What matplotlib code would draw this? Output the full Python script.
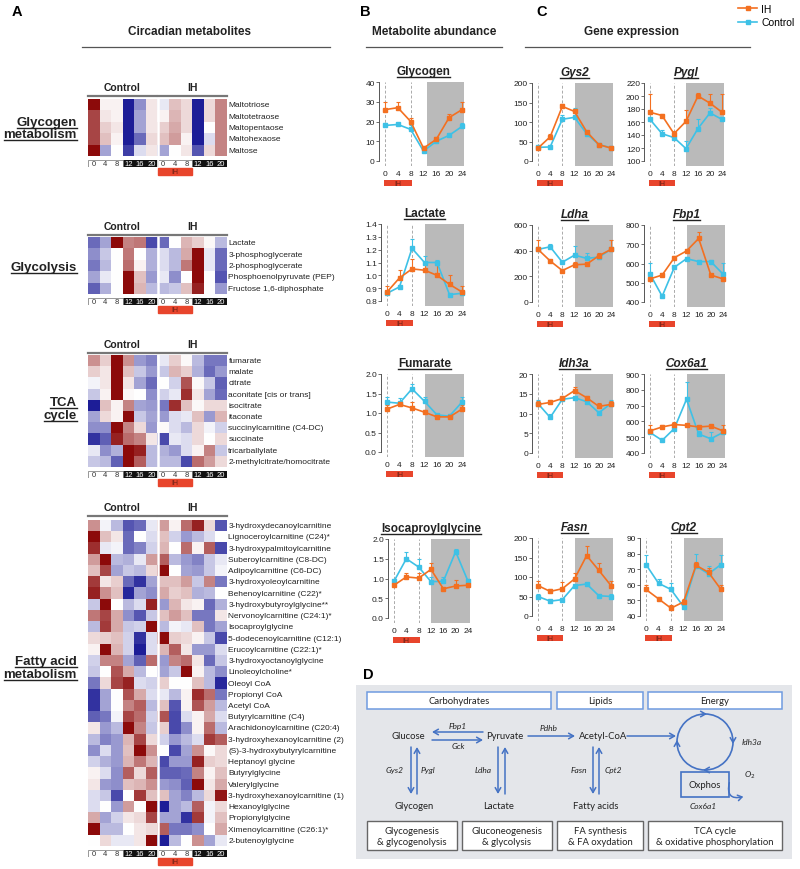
import numpy as np
import matplotlib
matplotlib.use("Agg")
import matplotlib.pyplot as plt
from matplotlib.colors import LinearSegmentedColormap
from matplotlib.patches import Rectangle, Circle, FancyArrowPatch
from matplotlib.lines import Line2D
from matplotlib.ticker import FormatStrFormatter

plt.rcParams['font.family'] = ['Liberation Sans', 'DejaVu Sans']

# ---------------- data: heatmaps (z-scores, Control 0..20 | IH 0..20) ----------------
heat_times = ['0', '4', '8', '12', '16', '20']

glyc_names = ['Maltotriose', 'Maltotetraose', 'Maltopentaose', 'Maltohexaose', 'Maltose']
glyc_vals = [
    [2.0, 0.1, 0.1, -2.0, -1.0, 0.2, -0.2, 0.5, 0.3, -2.0, 0.3, 1.0],
    [1.5, 0.2, 0.1, -2.0, -0.8, 0.2, 0.1, 0.6, 0.3, -2.0, 0.3, 1.0],
    [1.5, 0.4, 0.2, -2.0, -0.8, 0.2, 0.4, 0.7, 0.3, -2.0, 0.0, 1.0],
    [1.5, 0.5, 0.1, -2.0, -1.3, 0.3, 0.5, 0.8, 0.1, -2.0, -0.3, 1.0],
    [2.0, -0.8, 0.0, -1.7, -0.3, 0.2, -0.8, 0.0, 0.2, -1.5, 0.3, 1.0],
]

glycol_names = ['Lactate', '3-phosphoglycerate', '2-phosphoglycerate',
                'Phosphoenolpyruvate (PEP)', 'Fructose 1,6-diphosphate']
glycol_vals = [
    [-1.3, -0.8, 2.0, 1.0, 1.1, -1.6, -1.3, 0.0, 0.6, 0.4, 0.05, -0.6],
    [-1.0, -0.5, 0.0, 1.1, 0.0, -0.7, -0.3, -0.6, 0.7, 2.0, -0.2, -1.3],
    [-1.2, -0.6, 0.0, 1.2, 0.1, -0.7, -0.3, -0.6, 1.1, 2.0, -0.2, -1.3],
    [-0.8, -0.2, 0.0, 2.0, 0.5, -0.9, -0.2, -1.0, 0.0, 2.0, 0.0, -1.5],
    [-1.4, -0.7, 0.0, 2.0, 0.6, -0.6, -0.6, -0.5, 0.5, 1.8, 0.0, -0.9],
]

tca_names = ['fumarate', 'malate', 'citrate', 'aconitate [cis or trans]', 'isocitrate',
             'itaconate', 'succinylcarnitine (C4-DC)', 'succinate', 'tricarballylate',
             '2-methylcitrate/homocitrate']
tca_vals = [
    [0.9, 0.4, 2.0, 0.9, -0.9, -1.1, -0.2, 0.4, 0.05, -0.6, -1.2, -1.2],
    [0.4, 0.2, 2.0, 0.5, -0.5, -0.9, -0.5, 0.6, 0.4, -0.7, -1.3, -0.9],
    [-0.1, 0.2, 2.0, 0.2, -0.8, -1.3, 0.0, -0.4, 1.4, 0.05, -0.5, -1.4],
    [-0.5, 0.1, 2.0, 0.05, 0.0, -1.0, -0.4, -0.2, 1.7, 0.2, -0.8, -1.3],
    [-2.0, 0.5, 0.1, 1.0, -0.8, -0.9, -1.2, 1.7, 0.5, 0.05, 0.3, 0.3],
    [-0.8, 0.3, 0.1, 2.0, -0.5, -0.8, -0.9, -0.3, -0.2, 0.5, -0.9, 0.6],
    [-1.0, -1.0, 2.0, 1.0, 0.3, -0.9, 0.05, -0.3, -0.6, 0.3, -0.1, -0.4],
    [-1.8, -1.4, 1.8, 1.2, 1.0, 0.2, -1.6, -0.2, -0.3, 0.3, 0.0, 0.3],
    [-0.2, -1.0, -0.7, 2.0, 1.8, -0.6, -0.7, -0.9, -0.3, 0.1, 1.0, -0.5],
    [-0.5, -0.6, -1.4, 2.0, 1.3, -0.6, -0.6, -0.6, -1.6, 1.2, 0.8, 0.3],
]

fa_names = ['3-hydroxydecanoylcarnitine', 'Lignoceroylcarnitine (C24)*',
            '3-hydroxypalmitoylcarnitine', 'Suberoylcarnitine (C8-DC)',
            'Adipoylcarnitine (C6-DC)', '3-hydroxyoleoylcarnitine',
            'Behenoylcarnitine (C22)*', '3-hydroxybutyroylglycine**',
            'Nervonoylcarnitine (C24:1)*', 'Isocaproylglycine',
            '5-dodecenoylcarnitine (C12:1)', 'Erucoylcarnitine (C22:1)*',
            '3-hydroxyoctanoylglycine', 'Linoleoylcholine*', 'Oleoyl CoA',
            'Propionyl CoA', 'Acetyl CoA', 'Butyrylcarnitine (C4)',
            'Arachidonoylcarnitine (C20:4)', '3-hydroxyhexanoylcarnitine (2)',
            '(S)-3-hydroxybutyrylcarnitine', 'Heptanoyl glycine', 'Butyrylglycine',
            'Valerylglycine', '3-hydroxyhexanoylcarnitine (1)', 'Hexanoylglycine',
            'Propionylglycine', 'Ximenoylcarnitine (C26:1)*', '2-butenoylglycine']
fa_vals = [
    [0.9, -0.1, -0.6, -1.5, -1.3, -0.2, 0.8, 0.1, 1.2, 1.8, 0.3, -1.5],
    [2.0, 0.5, 0.2, -1.3, 0.0, -0.3, 0.5, -0.4, -0.9, -0.6, -0.3, 0.0],
    [1.7, -0.2, -0.1, -1.3, -1.1, -0.4, 0.6, 0.0, 1.2, 0.1, 1.3, -1.6],
    [0.8, 2.0, -0.6, -0.7, -0.2, 0.8, 1.3, -0.6, -0.9, -1.1, -0.5, -0.2],
    [0.5, 1.5, -0.8, -0.5, -0.6, 0.3, 2.0, 0.0, -0.8, -0.9, -0.5, -0.1],
    [1.6, 0.2, 0.4, -1.3, -1.8, -0.8, 0.5, 0.5, 0.8, -0.5, 1.0, -1.2],
    [1.8, 0.9, 0.5, -1.9, -0.8, -1.0, 0.7, 0.4, 0.5, -0.7, -0.6, 0.0],
    [-0.5, 2.0, 0.0, -0.6, -0.3, 1.8, -0.9, 0.6, 0.2, 0.1, -1.3, -0.7],
    [1.1, 1.5, 0.7, -1.0, -1.5, -0.5, 0.5, 0.8, 0.5, -1.2, -1.2, 0.2],
    [-0.6, 1.6, 0.7, -0.5, -0.4, 2.0, -0.6, -0.1, -0.2, 0.5, -1.2, -0.8],
    [0.3, 0.4, 0.5, -0.4, -1.8, -0.3, 2.0, 0.4, 0.3, 0.1, -0.5, -1.6],
    [0.1, 2.0, 0.6, -0.4, -2.0, -0.3, 0.6, 1.3, 0.2, -0.9, -0.9, -0.3],
    [-0.4, 1.0, 1.0, -0.8, -1.4, 1.2, -0.9, 1.0, 1.2, 0.2, -1.3, -0.5],
    [-0.5, 0.0, 1.4, 0.7, -0.6, 0.0, -0.8, -0.5, 2.0, 0.1, -0.6, -1.0],
    [-1.2, 0.3, 1.5, 1.8, -0.3, -0.4, 0.4, 0.0, 0.0, 0.5, -0.6, -1.9],
    [-1.8, -0.8, 0.0, 1.4, 0.7, -0.3, -0.2, -0.6, 0.1, 1.7, 1.2, -1.2],
    [-1.8, -0.8, 0.0, 1.0, 1.3, -0.6, 0.5, -1.5, 0.1, 1.4, 0.8, -0.6],
    [-1.4, -1.2, -0.1, 1.5, 1.2, -0.4, 1.4, -1.6, -0.3, 0.1, 0.7, -0.3],
    [0.2, -0.9, -0.6, 2.0, 1.0, -0.5, 0.4, -1.6, -1.0, 0.1, 1.2, -0.6],
    [-0.6, -1.1, -0.9, 0.6, 1.5, 0.3, -0.4, -0.9, -0.6, -0.3, 1.6, 1.3],
    [-1.0, -0.3, -0.9, 0.5, 2.0, 0.9, 0.0, -1.6, -0.8, 0.9, 0.05, 0.3],
    [-0.4, -0.7, -0.9, 0.6, 1.1, 0.6, -1.6, -0.9, -0.9, 1.8, 0.4, 0.3],
    [0.1, -0.3, -1.0, 1.3, 0.3, 1.3, -1.4, -1.4, -1.3, 1.0, 0.1, 0.5],
    [0.2, -0.9, -1.0, 0.5, 0.6, 0.9, -0.9, -1.0, -1.4, 2.0, 0.2, 0.7],
    [-0.3, -0.5, -1.6, 0.0, 1.6, 0.5, 0.5, -0.8, -1.1, -0.6, 0.3, 1.9],
    [-0.3, 0.0, -0.9, 0.8, 0.0, 2.0, -2.0, -0.8, -0.6, 1.3, -0.1, 0.3],
    [0.7, -0.8, -0.4, 0.2, 0.3, 1.5, -0.8, -0.8, -1.8, 1.6, -0.1, 0.5],
    [2.0, -0.6, -0.6, 0.0, 0.2, 0.3, 1.3, -1.2, -1.2, -1.0, 0.0, 0.7],
    [0.0, 0.3, -0.2, -0.2, 0.2, 2.0, -2.0, -0.6, 0.0, 0.9, -0.8, -0.2],
]

# ---------------- data: time courses (ZT hours) ----------------
hours = [0, 4, 8, 12, 16, 20, 24]

glycogen_ih = [26, 27, 20, 6.5, 11, 22, 26]
glycogen_ih_err = [4, 3, 2, 1, 1, 2, 4]
glycogen_ct = [18, 18.5, 16, 5, 10, 13, 17.5]
glycogen_ct_err = [1, 0.5, 2, 1, 0.5, 0.5, 1.5]

gys2_ih = [33, 62, 140, 127, 75, 42, 33]
gys2_ih_err = [3, 8, 7, 5, 3, 2, 3]
gys2_ct = [35, 36, 107, 112, 70, 42, 34]
gys2_ct_err = [3, 3, 12, 25, 3, 2, 3]

pygl_ih = [175, 170, 142, 161, 200, 189, 175]
pygl_ih_err = [28, 2, 4, 18, 5, 14, 28]
pygl_ct = [164, 142, 136, 119, 150, 174, 164]
pygl_ct_err = [0, 6, 2, 12, 14, 8, 0]

lactate_ih = [0.87, 0.98, 1.05, 1.04, 1.00, 0.93, 0.87]
lactate_ih_err = [0.05, 0.06, 0.08, 0.06, 0.08, 0.07, 0.05]
lactate_ct = [0.86, 0.91, 1.21, 1.10, 1.10, 0.85, 0.86]
lactate_ct_err = [0.0, 0.01, 0.07, 0.05, 0.02, 0.0, 0.0]

ldha_ih = [410, 320, 245, 290, 295, 360, 410]
ldha_ih_err = [70, 10, 10, 20, 5, 20, 70]
ldha_ct = [410, 430, 310, 365, 340, 350, 410]
ldha_ct_err = [0, 25, 10, 70, 40, 10, 0]

fbp1_ih = [520, 540, 630, 665, 730, 540, 520]
fbp1_ih_err = [10, 10, 10, 10, 35, 5, 10]
fbp1_ct = [545, 430, 580, 625, 610, 610, 545]
fbp1_ct_err = [60, 5, 10, 10, 10, 10, 60]

fumarate_ih = [1.10, 1.22, 1.13, 1.02, 0.90, 0.90, 1.10]
fumarate_ih_err = [0.1, 0.05, 0.15, 0.05, 0.02, 0.03, 0.1]
fumarate_ct = [1.28, 1.25, 1.62, 1.30, 0.95, 0.92, 1.28]
fumarate_ct_err = [0.13, 0.13, 0.12, 0.1, 0.02, 0.02, 0.13]

idh3a_ih = [12.3, 12.8, 13.8, 15.8, 14.0, 11.8, 12.3]
idh3a_ih_err = [0.8, 0.5, 0.3, 0.8, 0.4, 0.8, 0.8]
idh3a_ct = [12.5, 9.0, 13.6, 14.0, 13.0, 10.2, 12.5]
idh3a_ct_err = [0.8, 1.0, 0.3, 0.5, 0.5, 0.5, 0.8]

cox6a1_ih = [540, 565, 580, 575, 565, 570, 540]
cox6a1_ih_err = [35, 10, 15, 10, 5, 5, 35]
cox6a1_ct = [530, 480, 555, 740, 520, 490, 530]
cox6a1_ct_err = [20, 5, 15, 110, 20, 40, 20]

isocap_ih = [0.83, 1.04, 1.01, 1.23, 0.74, 0.81, 0.83]
isocap_ih_err = [0.05, 0.1, 0.12, 0.15, 0.03, 0.15, 0.03]
isocap_ct = [0.93, 1.50, 1.29, 0.92, 0.93, 1.68, 0.93]
isocap_ct_err = [0.05, 0.16, 0.2, 0.12, 0.1, 0.07, 0.05]

fasn_ih = [78, 63, 70, 95, 155, 117, 78]
fasn_ih_err = [12, 5, 16, 15, 25, 18, 12]
fasn_ct = [50, 38, 42, 78, 82, 52, 50]
fasn_ct_err = [6, 3, 3, 4, 3, 3, 6]

cpt2_ih = [57, 51, 45, 49, 72.5, 68, 57]
cpt2_ih_err = [3, 1.5, 2, 2, 2, 3, 3]
cpt2_ct = [73, 61, 57, 46, 72, 67, 73]
cpt2_ct_err = [6, 2.5, 4, 1.5, 8, 5, 6]

# ---------------- figure helpers (pixel coordinates, origin top-left) ----------------
W, H = 800, 870
fig = plt.figure(figsize=(W / 100, H / 100), dpi=100)

ORANGE = '#f37021'
CYAN = '#3ec1e6'
IHRED = '#e8452c'
TXT = '#222222'
to_underline = []


def px_ax(x0, y0, x1, y1):
    return fig.add_axes([x0 / W, 1 - y1 / H, (x1 - x0) / W, (y1 - y0) / H])


def ftext(x, y, s, **kw):
    return fig.text(x / W, 1 - y / H, s, **kw)


def fline(xs, ys, **kw):
    fig.add_artist(Line2D([x / W for x in xs], [1 - y / H for y in ys], **kw))


# ---------------- panel headers ----------------
ftext(12, 12, 'A', fontsize=10.5, fontweight='bold', va='center')
ftext(360, 12, 'B', fontsize=10.5, fontweight='bold', va='center')
ftext(536, 12, 'C', fontsize=10.5, fontweight='bold', va='center')
ftext(190, 32, 'Circadian metabolites', fontsize=8.5, fontweight='bold', ha='center', va='center', color=TXT)
ftext(434, 32, 'Metabolite abundance', fontsize=8.5, fontweight='bold', ha='center', va='center', color=TXT)
ftext(632, 32, 'Gene expression', fontsize=8.5, fontweight='bold', ha='center', va='center', color=TXT)
fline([82, 330], [48, 48], color='#555', lw=0.9)
fline([366, 502], [48, 48], color='#555', lw=0.9)
fline([525, 750], [48, 48], color='#555', lw=0.9)

fig.legend(handles=[Line2D([], [], color=ORANGE, marker='s', ms=2.5, lw=1.2),
                    Line2D([], [], color=CYAN, marker='s', ms=2.5, lw=1.2)],
           labels=['IH', 'Control'], loc='upper right', bbox_to_anchor=(1.005, 1.005),
           frameon=False, fontsize=7.5, handlelength=1.8, handletextpad=0.4, labelspacing=0.3)

# ---------------- A: heatmaps ----------------
cmap = LinearSegmentedColormap.from_list('bwr_dark', ['#1d1d97', '#ffffff', '#8c0a0a'])


def heat_block(names, vals, head_y, top, bottom):
    ftext(122, head_y, 'Control', ha='center', va='center', fontsize=7.5, fontweight='bold', color=TXT)
    ftext(192.5, head_y, 'IH', ha='center', va='center', fontsize=7.5, fontweight='bold', color=TXT)
    fline([88, 156], [head_y + 9] * 2, color='#777', lw=1.6)
    fline([158, 227], [head_y + 9] * 2, color='#777', lw=1.6)
    ax = px_ax(88, top, 227, bottom)
    ax.imshow(np.array(vals), cmap=cmap, vmin=-2, vmax=2, aspect='auto', interpolation='nearest')
    ax.axvline(5.5, color='white', lw=1.8)
    ax.set_axis_off()
    for i, n in enumerate(names):
        ax.text(1.01, i, n, transform=ax.get_yaxis_transform(), va='center', ha='left',
                fontsize=6, color=TXT)
    tax = px_ax(88, bottom + 4, 227, bottom + 11)
    tax.set_xlim(-0.5, 11.5)
    tax.set_ylim(0, 1)
    cols = (['white'] * 3 + ['#111111'] * 3) * 2
    tax.bar(range(12), 1, width=1, color=cols, lw=0)
    for g in (0, 6):
        tax.add_patch(Rectangle((g - 0.5, 0), 3, 1, fill=False, ec='#888', lw=0.6))
    for i, t in enumerate(heat_times * 2):
        tax.text(i, 0.48, t, ha='center', va='center', fontsize=5.5,
                 color='white' if i % 6 >= 3 else '#333')
    tax.axvline(5.5, color='white', lw=1.2)
    tax.add_patch(Rectangle((5.5, -1.15), 3, 0.95, color=IHRED, clip_on=False))
    tax.text(7, -0.68, 'IH', ha='center', va='center', fontsize=5, color='#6b2015')
    tax.set_axis_off()


heat_block(glyc_names, glyc_vals, 88, 100, 157)
heat_block(glycol_names, glycol_vals, 227, 238, 295)
heat_block(tca_names, tca_vals, 345, 356, 468)
heat_block(fa_names, fa_vals, 508, 521, 847)

for s, y in [('Glycogen', 123), ('metabolism', 135), ('Glycolysis', 268), ('TCA', 403),
             ('cycle', 416), ('Fatty acid', 662), ('metabolism', 675)]:
    to_underline.append(ftext(77, y, s, ha='right', va='center', fontsize=9.5,
                              fontweight='bold', color=TXT))


# ---------------- B & C: time courses ----------------
def line_panel(x0, x24, ytop, ybot, yticks, title, ih, ih_err, ct, ct_err,
               italic=False, fmt='%d', shade=12):
    ppu = (x24 - x0) / 24.0
    ymin, ymax = yticks[0], yticks[-1]
    ppy = (ybot - ytop) / (ymax - ymin)
    ax = px_ax(x0 - 1.9 * ppu, ytop, x24 + 0.7 * ppu, ybot + 5)
    ax.set_xlim(-1.9, 24.7)
    ax.set_ylim(ymin - 5 / ppy, ymax)
    ax.axvspan(shade, 24.7, color='#bababa', lw=0, zorder=0)
    for xv in (0, 8):
        ax.axvline(xv, color='#aaaaaa', lw=0.7, ls=(0, (3, 2)), zorder=1)
    for y, e, c in [(ct, ct_err, CYAN), (ih, ih_err, ORANGE)]:
        ax.errorbar(hours, y, yerr=[np.zeros(len(e)), e], color=c, lw=1.2, marker='s', ms=2.2,
                    capsize=1.5, elinewidth=0.8, capthick=0.8, zorder=3, clip_on=False)
    for s in ('top', 'right', 'bottom'):
        ax.spines[s].set_visible(False)
    ax.spines['left'].set_bounds(ymin, ymax)
    ax.spines['left'].set_color('#555')
    ax.spines['left'].set_linewidth(0.7)
    ax.set_xticks(hours)
    ax.set_yticks(yticks)
    ax.yaxis.set_major_formatter(FormatStrFormatter(fmt))
    ax.tick_params(axis='x', length=0, pad=3, labelsize=6, labelcolor=TXT)
    ax.tick_params(axis='y', length=2, pad=1, labelsize=6, width=0.6, color='#555', labelcolor=TXT)
    t = ftext((x0 + x24) / 2, ytop - 11, title, ha='center', va='center', fontsize=8.5,
              fontweight='bold', style='italic' if italic else 'normal', color=TXT)
    to_underline.append(t)
    bar = px_ax(x0 - 0.3 * ppu, ybot + 19, x0 + 8.3 * ppu, ybot + 25)
    bar.set_facecolor(IHRED)
    bar.set_xticks([])
    bar.set_yticks([])
    for s in bar.spines.values():
        s.set_visible(False)
    bar.text(0.5, 0.45, 'IH', ha='center', va='center', fontsize=5, color='#6b2015',
             transform=bar.transAxes)


line_panel(385, 462, 83, 162, [0, 10, 20, 30, 40], 'Glycogen',
           glycogen_ih, glycogen_ih_err, glycogen_ct, glycogen_ct_err, shade=13)
line_panel(538, 611, 84, 162, [0, 50, 100, 150, 200], 'Gys2',
           gys2_ih, gys2_ih_err, gys2_ct, gys2_ct_err, italic=True)
line_panel(650, 722, 84, 162, [100, 120, 140, 160, 180, 200, 220], 'Pygl',
           pygl_ih, pygl_ih_err, pygl_ct, pygl_ct_err, italic=True)

line_panel(387, 462, 225, 302, [0.8, 0.9, 1.0, 1.1, 1.2, 1.3, 1.4], 'Lactate',
           lactate_ih, lactate_ih_err, lactate_ct, lactate_ct_err, fmt='%.1f')
line_panel(538, 611, 226, 303, [0, 200, 400, 600], 'Ldha',
           ldha_ih, ldha_ih_err, ldha_ct, ldha_ct_err, italic=True)
line_panel(650, 723, 226, 303, [400, 500, 600, 700, 800], 'Fbp1',
           fbp1_ih, fbp1_ih_err, fbp1_ct, fbp1_ct_err, italic=True)

line_panel(387, 462, 375, 453, [0.0, 0.5, 1.0, 1.5, 2.0], 'Fumarate',
           fumarate_ih, fumarate_ih_err, fumarate_ct, fumarate_ct_err, fmt='%.1f')
line_panel(538, 611, 375, 454, [0, 5, 10, 15, 20], 'Idh3a',
           idh3a_ih, idh3a_ih_err, idh3a_ct, idh3a_ct_err, italic=True)
line_panel(650, 723, 375, 454, [400, 500, 600, 700, 800, 900], 'Cox6a1',
           cox6a1_ih, cox6a1_ih_err, cox6a1_ct, cox6a1_ct_err, italic=True)

line_panel(394, 468, 540, 619, [0.0, 0.5, 1.0, 1.5, 2.0], 'Isocaproylglycine',
           isocap_ih, isocap_ih_err, isocap_ct, isocap_ct_err, fmt='%.1f')
line_panel(538, 611, 539, 617, [0, 50, 100, 150, 200], 'Fasn',
           fasn_ih, fasn_ih_err, fasn_ct, fasn_ct_err, italic=True)
line_panel(646, 721, 539, 617, [40, 50, 60, 70, 80, 90], 'Cpt2',
           cpt2_ih, cpt2_ih_err, cpt2_ct, cpt2_ct_err, italic=True)

# ---------------- D: pathway diagram ----------------
ftext(363, 675, 'D', fontsize=10.5, fontweight='bold', va='center')
dax = px_ax(356, 686, 792, 860)
dax.set_xlim(356, 792)
dax.set_ylim(860, 686)
dax.set_facecolor('#e4e6ea')
dax.set_xticks([])
dax.set_yticks([])
for s in dax.spines.values():
    s.set_visible(False)

BLUE = '#4472c4'
DFONT = ['Lato', 'DejaVu Sans']
for x0, x1, lab in [(367, 551, 'Carbohydrates'), (557, 643, 'Lipids'), (648, 782, 'Energy')]:
    dax.add_patch(Rectangle((x0, 693), x1 - x0, 17, fc='white', ec='#6f9be0', lw=1.1))
    dax.text((x0 + x1) / 2, 702, lab, ha='center', va='center', fontsize=6.8, family=DFONT, color=TXT)
for x0, x1, lab in [(367, 457, 'Glycogenesis\n& glycogenolysis'),
                    (462, 552, 'Gluconeogenesis\n& glycolysis'),
                    (557, 643, 'FA synthesis\n& FA oxydation'),
                    (648, 782, 'TCA cycle\n& oxidative phosphorylation')]:
    dax.add_patch(Rectangle((x0, 822), x1 - x0, 29, fc='white', ec='#666', lw=1.0))
    dax.text((x0 + x1) / 2, 837, lab, ha='center', va='center', fontsize=6.8, family=DFONT,
             color=TXT, linespacing=1.3)

for x, y, lab in [(408, 737, 'Glucose'), (505, 737, 'Pyruvate'), (603, 737, 'Acetyl-CoA'),
                  (414, 807, 'Glycogen'), (499, 807, 'Lactate'), (596, 807, 'Fatty acids')]:
    dax.text(x, y, lab, ha='center', va='center', fontsize=6.8, family=DFONT, color=TXT)
for x, y, lab in [(458, 727, 'Fbp1'), (458, 747, 'Gck'), (549, 729, 'Pdhb'),
                  (395, 771, 'Gys2'), (428, 771, 'Pygl'), (483, 771, 'Ldha'),
                  (579, 771, 'Fasn'), (613, 771, 'Cpt2'), (752, 743, 'Idh3a'),
                  (703, 807, 'Cox6a1'), (750, 775, 'O$_2$')]:
    dax.text(x, y, lab, ha='center', va='center', fontsize=6, family=DFONT, style='italic',
             color=TXT)


def arrow(x1, y1, x2, y2):
    dax.annotate('', xy=(x2, y2), xytext=(x1, y1),
                 arrowprops=dict(arrowstyle='->,head_length=0.35,head_width=0.2', color=BLUE,
                                 lw=1.1, shrinkA=0, shrinkB=0))


arrow(483, 733, 432, 733)
arrow(432, 741, 483, 741)
arrow(528, 737, 575, 737)
arrow(627, 737, 676, 737)
arrow(411, 748, 411, 795)
arrow(417, 795, 417, 748)
arrow(498, 748, 498, 795)
arrow(505, 795, 505, 748)
arrow(593, 748, 593, 795)
arrow(599, 795, 599, 748)

dax.add_patch(Circle((705, 743), 28, fill=False, ec=BLUE, lw=1.2))
arrow(703, 715, 707, 715)
arrow(733, 741, 733, 745)
arrow(707, 771, 703, 771)
arrow(677, 745, 677, 741)
dax.add_patch(Rectangle((681, 773), 48, 25, fc='none', ec=BLUE, lw=1.2))
dax.text(705, 786, 'Oxphos', ha='center', va='center', fontsize=6.8, family=DFONT, color=TXT)
dax.add_patch(FancyArrowPatch((730, 781), (746, 797), connectionstyle='arc3,rad=0.9',
                              arrowstyle='->,head_length=3,head_width=2', color=BLUE, lw=1.1))

# ---------------- underline titles ----------------
fig.canvas.draw()
rend = fig.canvas.get_renderer()
for t in to_underline:
    bb = t.get_window_extent(rend)
    fig.add_artist(Line2D([bb.x0 / W, bb.x1 / W], [(bb.y0 - 0.3) / H] * 2,
                          color=TXT, lw=1.0))

fig.savefig('out.png', dpi=100)
